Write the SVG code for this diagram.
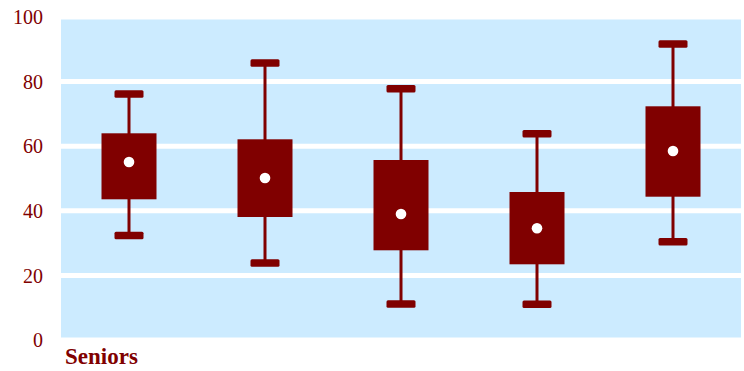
<svg xmlns="http://www.w3.org/2000/svg" width="744" height="371" viewBox="0 0 744 371">
<style>
.lbl{font-family:"Liberation Serif",Tinos,"Times New Roman",Times,"DejaVu Serif",serif;font-size:20px;fill:#800000;text-anchor:end}
.title{font-family:"Liberation Serif",Tinos,"Times New Roman",Times,"DejaVu Serif",serif;font-size:23px;font-weight:bold;fill:#800000}
.box{fill:#800000}
.cap{fill:#800000}
.wh{stroke:#800000;stroke-width:3}
.med{fill:#ffffff}
.grid{stroke:#ffffff;stroke-width:5}
</style>
<rect width="744" height="371" fill="#ffffff"/>
<g id="plot-area">
<rect x="61" y="19.5" width="680" height="318" fill="#CCEBFF"/>
<line class="grid" x1="61" y1="81.6" x2="741" y2="81.6"/>
<line class="grid" x1="61" y1="146.2" x2="741" y2="146.2"/>
<line class="grid" x1="61" y1="210.8" x2="741" y2="210.8"/>
<line class="grid" x1="61" y1="275.4" x2="741" y2="275.4"/>
</g>
<g id="y-axis">
<text class="lbl" x="43" y="24">100</text>
<text class="lbl" x="43" y="88.5">80</text>
<text class="lbl" x="43" y="153">60</text>
<text class="lbl" x="43" y="218">40</text>
<text class="lbl" x="43" y="282.5">20</text>
<text class="lbl" x="43" y="347">0</text>
</g>
<text class="title" x="65" y="364">Seniors</text>
<g id="connectors">
<line class="wh" x1="129" y1="94" x2="129" y2="134"/>
<line class="wh" x1="129" y1="199" x2="129" y2="235.5"/>
<line class="wh" x1="265" y1="63" x2="265" y2="140"/>
<line class="wh" x1="265" y1="216" x2="265" y2="263"/>
<line class="wh" x1="401" y1="88.7" x2="401" y2="161"/>
<line class="wh" x1="401" y1="250" x2="401" y2="304"/>
<line class="wh" x1="537" y1="133.7" x2="537" y2="193"/>
<line class="wh" x1="537" y1="264" x2="537" y2="304.3"/>
<line class="wh" x1="673" y1="44" x2="673" y2="107"/>
<line class="wh" x1="673" y1="196" x2="673" y2="241.7"/>
</g>
<g id="box1">
<rect class="cap" x="114.5" y="90.2" width="29" height="7.6" rx="1.5"/>
<rect class="cap" x="114.5" y="231.7" width="29" height="7.6" rx="1.5"/>
<rect class="box" x="101.5" y="133.3" width="55" height="66"/>
<circle class="med" cx="129" cy="162" r="5.3"/>
</g>
<g id="box2">
<rect class="cap" x="250.5" y="59.2" width="29" height="7.6" rx="1.5"/>
<rect class="cap" x="250.5" y="259.2" width="29" height="7.6" rx="1.5"/>
<rect class="box" x="237.5" y="139.3" width="55" height="77.7"/>
<circle class="med" cx="265" cy="178" r="5.3"/>
</g>
<g id="box3">
<rect class="cap" x="386.5" y="84.9" width="29" height="7.6" rx="1.5"/>
<rect class="cap" x="386.5" y="300.2" width="29" height="7.6" rx="1.5"/>
<rect class="box" x="373.5" y="160" width="55" height="90.3"/>
<circle class="med" cx="401" cy="214" r="5.3"/>
</g>
<g id="box4">
<rect class="cap" x="522.5" y="129.9" width="29" height="7.6" rx="1.5"/>
<rect class="cap" x="522.5" y="300.5" width="29" height="7.6" rx="1.5"/>
<rect class="box" x="509.5" y="192" width="55" height="72.3"/>
<circle class="med" cx="537" cy="228.3" r="5.3"/>
</g>
<g id="box5">
<rect class="cap" x="658.5" y="40.2" width="29" height="7.6" rx="1.5"/>
<rect class="cap" x="658.5" y="237.9" width="29" height="7.6" rx="1.5"/>
<rect class="box" x="645.5" y="106.3" width="55" height="90.4"/>
<circle class="med" cx="673" cy="151" r="5.3"/>
</g>
</svg>
